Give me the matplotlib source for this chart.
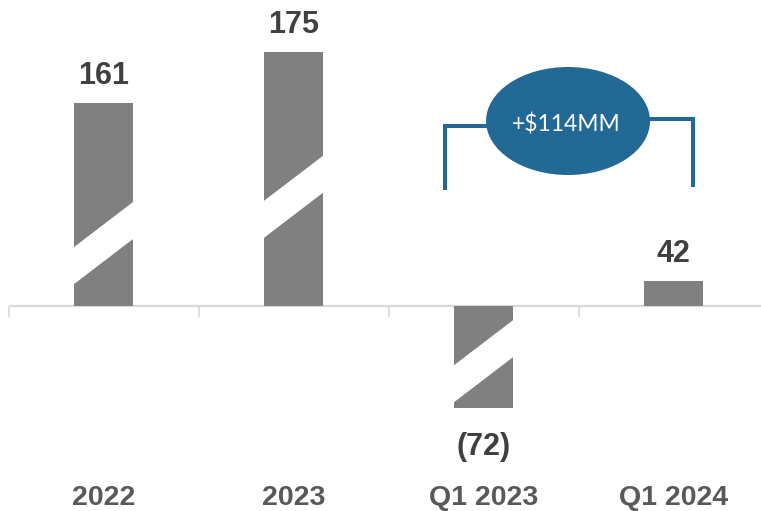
import numpy as np
import matplotlib.pyplot as plt
from matplotlib.patches import Ellipse, Polygon
from matplotlib.transforms import blended_transform_factory

categories = ['2022', '2023', 'Q1 2023', 'Q1 2024']
values = [161, 175, -72, 42]
value_labels = ['161', '175', '(72)', '42']
change_label = '+$114MM'

# where the "not to scale" slash sits on each bar (fraction of drawn length)
break_frac = [0.31, 0.43, 0.54, None]

# broken value axis: knots of value -> pixels above the zero line
axis_vals = [-100, 0, 50, 150, 200]
axis_px = [-142, 0, 30, 163, 345]

BAR = '#808080'
GRID = '#d9d9d9'
BLUE = '#236995'

kv = np.array([-1e5] + axis_vals + [1e5], float)
kp = np.array([axis_px[0] - (1e5 + axis_vals[0])] + axis_px
              + [axis_px[-1] + (1e5 - axis_vals[-1])], float)


def fwd(v):
    return np.interp(np.asarray(v, float), kv, kp)


def inv(p):
    return np.interp(np.asarray(p, float), kp, kv)


W, H = 761, 511
fig = plt.figure(figsize=(W / 100, H / 100), dpi=100)
ax = fig.add_axes([0, 0, 1, 1])
ax.set_yscale('function', functions=(fwd, inv))

step = 190.0
x0_px = 103.5
ax.set_xlim(-x0_px / step, (W - x0_px) / step)
zero_px = 205
ax.set_ylim(float(inv(-zero_px)), float(inv(H - zero_px)))
ax.axis('off')

x = np.arange(len(categories))
width = 0.31
ax.bar(x, values, width=width, color=BAR, zorder=3)

# white slashes across the broken bars
half = 18.5
rise = 45.0
for i, (v, f) in enumerate(zip(values, break_frac)):
    if f is None:
        continue
    c = f * float(fwd(v))
    xa, xb = i - width / 2 - 0.01, i + width / 2 + 0.01
    up = lambda xx: c + half + (xx - i) / width * rise
    lo = lambda xx: c - half + (xx - i) / width * rise
    pts = [(xa, inv(up(xa))), (xb, inv(up(xb))),
           (xb, inv(lo(xb))), (xa, inv(lo(xa)))]
    ax.add_patch(Polygon(pts, closed=True, facecolor='white',
                         edgecolor='none', zorder=4))

# zero line with category dividers
ax.hlines(0, -0.5, (W - x0_px) / step, color=GRID, lw=1.6, zorder=2)
ax.vlines(x - 0.5, float(inv(-11)), 0, color=GRID, lw=1.2, zorder=2)

for i, (v, lab) in enumerate(zip(values, value_labels)):
    off = 13.7 if v >= 0 else -34
    ax.annotate(lab, (i, v), xytext=(0, off), textcoords='offset points',
                ha='center', va='baseline', fontsize=22, fontweight='bold',
                color='#404040', family='Liberation Sans', zorder=5)

tr = blended_transform_factory(ax.transData, ax.transAxes)
for i, cat in enumerate(categories):
    ax.text(i, 6 / H, cat, transform=tr, ha='center', va='baseline',
            fontsize=20.5, fontweight='bold', color='#595959',
            family='Liberation Sans')

# bracket and bubble for the Q1 change
lx, rx = 2 - 0.205, 3 + 0.105
cx = 2.445
ax.plot([lx, lx, cx], [1 - 190 / H, 1 - 126 / H, 1 - 126 / H], transform=tr,
        color=BLUE, lw=2.9, solid_joinstyle='miter', solid_capstyle='butt',
        zorder=5)
ax.plot([cx, rx, rx], [1 - 119 / H, 1 - 119 / H, 1 - 187 / H], transform=tr,
        color=BLUE, lw=2.9, solid_joinstyle='miter', solid_capstyle='butt',
        zorder=5)
ax.add_patch(Ellipse((cx, 1 - 121 / H), 164 / step, 108 / H, transform=tr,
                     facecolor=BLUE, edgecolor='none', zorder=6))
ax.text(cx - 0.01, 1 - 132 / H, change_label, transform=tr, ha='center',
        va='baseline', fontsize=16.5, color='white', family='Lato', zorder=7)

fig.savefig('out.png', dpi=100)
